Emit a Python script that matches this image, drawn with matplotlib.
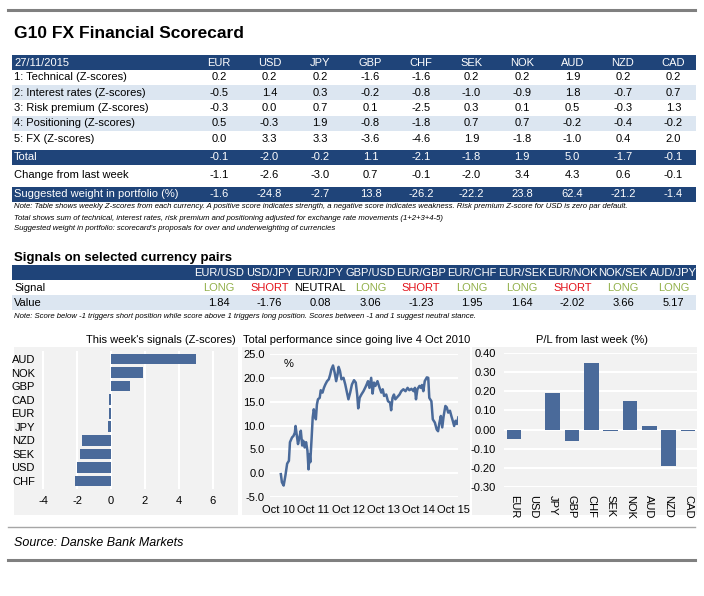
import matplotlib
matplotlib.use("Agg")
import matplotlib.pyplot as plt
from matplotlib import font_manager
from matplotlib.patches import Rectangle
from matplotlib.lines import Line2D

# narrow font if we have it, otherwise Liberation Sans
names = {f.name for f in font_manager.fontManager.ttflist}
FONT = "Liberation Sans Narrow" if "Liberation Sans Narrow" in names else "Liberation Sans"
plt.rcParams["font.family"] = [FONT, "DejaVu Sans"]
plt.rcParams["axes.unicode_minus"] = False

W, H = 704, 596
NAVY = "#1F4479"
BAND = "#DCE6F1"
BAR = "#4A6A9A"
PANEL = "#F2F2F2"
FS = 8

# scorecard data
currencies = ["EUR", "USD", "JPY", "GBP", "CHF", "SEK", "NOK", "AUD", "NZD", "CAD"]
row_labels = ["1: Technical (Z-scores)", "2: Interest rates (Z-scores)",
              "3: Risk premium (Z-scores)", "4: Positioning (Z-scores)", "5: FX (Z-scores)"]
technical = [0.2, 0.2, 0.2, -1.6, -1.6, 0.2, 0.2, 1.9, 0.2, 0.2]
interest = [-0.5, 1.4, 0.3, -0.2, -0.8, -1.0, -0.9, 1.8, -0.7, 0.7]
risk = [-0.3, 0.0, 0.7, 0.1, -2.5, 0.3, 0.1, 0.5, -0.3, 1.3]
positioning = [0.5, -0.3, 1.9, -0.8, -1.8, 0.7, 0.7, -0.2, -0.4, -0.2]
fx_scores = [0.0, 3.3, 3.3, -3.6, -4.6, 1.9, -1.8, -1.0, 0.4, 2.0]
total = [-0.1, -2.0, -0.2, 1.1, -2.1, -1.8, 1.9, 5.0, -1.7, -0.1]
change = [-1.1, -2.6, -3.0, 0.7, -0.1, -2.0, 3.4, 4.3, 0.6, -0.1]
weight = [-1.6, -24.8, -2.7, 13.8, -26.2, -22.2, 23.8, 62.4, -21.2, -1.4]

# currency pair signals
pairs = ["EUR/USD", "USD/JPY", "EUR/JPY", "GBP/USD", "EUR/GBP",
         "EUR/CHF", "EUR/SEK", "EUR/NOK", "NOK/SEK", "AUD/JPY"]
signals = ["LONG", "SHORT", "NEUTRAL", "LONG", "SHORT", "LONG", "LONG", "SHORT", "LONG", "LONG"]
pair_values = [1.84, -1.76, 0.08, 3.06, -1.23, 1.95, 1.64, -2.02, 3.66, 5.17]

# bar chart order (top to bottom)
signal_order = ["AUD", "NOK", "GBP", "CAD", "EUR", "JPY", "NZD", "SEK", "USD", "CHF"]

# total performance (decimal year, %)
perf_dates = [2010.83, 2010.86, 2010.91, 2010.96, 2011.01, 2011.06, 2011.09, 2011.15, 2011.19, 2011.23,
              2011.25, 2011.28, 2011.32, 2011.36, 2011.40, 2011.44, 2011.47, 2011.51, 2011.55, 2011.59,
              2011.62, 2011.65, 2011.67, 2011.71, 2011.74, 2011.77, 2011.80, 2011.83, 2011.86, 2011.89,
              2011.94, 2011.97, 2012.02, 2012.06, 2012.10, 2012.15, 2012.20, 2012.24, 2012.27, 2012.32,
              2012.37, 2012.41, 2012.45, 2012.48, 2012.52, 2012.56, 2012.62, 2012.67, 2012.71, 2012.76,
              2012.81, 2012.86, 2012.92, 2012.97, 2013.01, 2013.04, 2013.08, 2013.13, 2013.19, 2013.25,
              2013.28, 2013.32, 2013.36, 2013.41, 2013.45, 2013.49, 2013.53, 2013.59, 2013.65, 2013.70,
              2013.74, 2013.78, 2013.84, 2013.89, 2013.95, 2013.98, 2014.02, 2014.06, 2014.10, 2014.16,
              2014.22, 2014.27, 2014.33, 2014.39, 2014.45, 2014.50, 2014.56, 2014.62, 2014.66, 2014.69,
              2014.73, 2014.79, 2014.83, 2014.86, 2014.90, 2014.94, 2015.00, 2015.04, 2015.07, 2015.13,
              2015.17, 2015.23, 2015.28, 2015.32, 2015.36, 2015.40, 2015.44, 2015.48, 2015.53, 2015.57,
              2015.61, 2015.66, 2015.70, 2015.74, 2015.78, 2015.82, 2015.86, 2015.90]
perf_values = [-0.2, -1.9, -2.6, -0.5, 2.0, 2.6, 6.5, 7.5, 7.8, 8.5,
               9.9, 8.2, 6.1, 7.5, 8.9, 5.8, 6.8, 5.4, 6.5, 4.7,
               0.8, 4.0, 2.3, 7.5, 11.7, 13.4, 12.4, 11.3, 14.4, 15.5,
               15.8, 17.4, 16.9, 17.9, 18.6, 19.3, 19.7, 20.7, 21.7, 22.6,
               21.0, 19.3, 20.7, 22.3, 21.4, 19.7, 20.0, 18.6, 17.2, 15.5,
               16.9, 18.6, 19.5, 19.0, 16.5, 13.6, 15.8, 16.5, 17.2, 18.1,
               18.6, 19.3, 17.9, 20.0, 16.7, 19.0, 18.3, 19.3, 17.9, 16.9,
               17.6, 16.2, 16.5, 15.1, 14.8, 13.2, 15.8, 16.5, 15.5, 16.0,
               16.5, 17.2, 17.6, 17.2, 17.9, 17.4, 17.7, 17.2, 17.9, 15.5,
               17.6, 18.3, 17.9, 18.5, 17.2, 19.3, 20.1, 20.0, 15.8, 15.1,
               11.3, 10.6, 9.2, 8.8, 10.6, 12.0, 9.6, 12.0, 14.1, 13.8,
               12.7, 13.1, 12.0, 11.0, 9.9, 11.0, 10.3, 11.7]
perf_ticks = [2010.75, 2011.75, 2012.75, 2013.75, 2014.75, 2015.75]
perf_ticklabels = ["Oct 10", "Oct 11", "Oct 12", "Oct 13", "Oct 14", "Oct 15"]

# P/L from last week (%)
pl_week = [-0.05, 0.0, 0.19, -0.06, 0.35, -0.01, 0.15, 0.02, -0.19, -0.01]

fig = plt.figure(figsize=(W / 100, H / 100), dpi=100)


def text(x, y, s, **kw):
    kw.setdefault("va", "center")
    kw.setdefault("fontsize", FS)
    fig.text(x / W, 1 - y / H, s, **kw)


def rect(x0, y0, x1, y1, color):
    fig.patches.append(Rectangle((x0 / W, 1 - y1 / H), (x1 - x0) / W, (y1 - y0) / H,
                                 transform=fig.transFigure, facecolor=color,
                                 edgecolor="none", zorder=-1))


def hline(x0, x1, y, lw, color):
    fig.lines.append(Line2D([x0 / W, x1 / W], [1 - y / H, 1 - y / H],
                            transform=fig.transFigure, color=color, linewidth=lw))


def axes_at(x0, y0, x1, y1):
    ax = fig.add_axes([x0 / W, 1 - y1 / H, (x1 - x0) / W, (y1 - y0) / H])
    ax.set_facecolor("none")
    for s in ax.spines.values():
        s.set_visible(False)
    ax.tick_params(length=0, labelsize=FS)
    return ax


# frame lines
hline(8, 695, 9.7, 2.2, "#808080")
hline(8, 695, 527, 1.0, "#A6A6A6")
hline(8, 695, 560, 2.2, "#808080")

text(14, 33, "G10 FX Financial Scorecard", fontsize=12.5, fontweight="bold")

# scorecard table
col_x = [219 + 50.5 * i for i in range(len(currencies))]
L, R = 12, 696

rect(L, 55, R, 70, NAVY)
text(14, 62.5, "27/11/2015", color="white")
for x, c in zip(col_x, currencies):
    text(x, 62.5, c, color="white", ha="center")

rows = [technical, interest, risk, positioning, fx_scores]
row_y = [77.5, 92.5, 108, 123.5, 138.5]
for i, (lab, vals, y) in enumerate(zip(row_labels, rows, row_y)):
    if i % 2 == 1:
        rect(L, y - 7.5, R, y + 7.5, BAND)
    text(14, y, lab)
    for x, v in zip(col_x, vals):
        text(x, y, f"{v:.1f}", ha="center")

rect(L, 150, R, 165, NAVY)
text(14, 157.5, "Total", color="white")
for x, v in zip(col_x, total):
    text(x, 157.5, f"{v:.1f}", ha="center", color="white")

text(14, 175, "Change from last week")
for x, v in zip(col_x, change):
    text(x, 175, f"{v:.1f}", ha="center")

rect(L, 187, R, 202, NAVY)
text(14, 194.5, "Suggested weight in portfolio (%)", color="white")
for x, v in zip(col_x, weight):
    text(x, 194.5, f"{v:.1f}", ha="center", color="white")

notes = ["Note: Table shows weekly Z-scores from each currency. A positive score indicates strength, a negative score indicates weakness. Risk premium Z-score for USD is zero par default.",
         "Total shows sum of technical, interest rates, risk premium and positioning adjusted for exchange rate movements (1+2+3+4-5)",
         "Suggested weight in portfolio: scorecard's proposals for over and underweighting of currencies"]
for y, s in zip([207, 218, 229], notes):
    text(14, y, s, fontsize=5.6, style="italic")

# signals table
text(14, 258, "Signals on selected currency pairs", fontsize=9.5, fontweight="bold")
rect(L, 265, R, 280, NAVY)
for x, p in zip(col_x, pairs):
    text(x, 272.5, p, color="white", ha="center")
sig_colors = {"LONG": "#92B04A", "SHORT": "#E3141C", "NEUTRAL": "black"}
text(14, 288, "Signal")
for x, s in zip(col_x, signals):
    text(x, 288, s, ha="center", color=sig_colors[s])
rect(L, 295, R, 310, BAND)
text(14, 302.5, "Value")
for x, v in zip(col_x, pair_values):
    text(x, 302.5, f"{v:.2f}", ha="center")
text(14, 316, "Note: Score below -1 triggers short position while score above 1 triggers long position. Scores between -1 and 1 suggest neutral stance.",
     fontsize=5.6, style="italic")

# chart panels
rect(14, 347, 238, 515, PANEL)
rect(242, 347, 470, 515, PANEL)
rect(472, 347, 697, 515, PANEL)

# this week's signals
ax1 = axes_at(39.8, 351, 236.4, 489)
tot = dict(zip(currencies, total))
ypos = list(range(len(signal_order)))[::-1]
ax1.barh(ypos, [tot[c] for c in signal_order], height=0.78, color=BAR, zorder=2)
ax1.set_yticks(ypos)
ax1.set_yticklabels(signal_order)
ax1.set_xlim(-4.2, 7.4)
ax1.set_ylim(-0.6, 9.6)
ax1.set_xticks([-4, -2, 0, 2, 4, 6])
ax1.grid(axis="x", color="white", linewidth=1.5, zorder=0)
ax1.set_axisbelow(True)
ax1.tick_params(axis="x", pad=5)
text(236, 340, "This week's signals (Z-scores)", ha="right")

# total performance
ax2 = axes_at(270, 354, 458, 497)
ax2.plot(perf_dates, perf_values, color=BAR, linewidth=1.8, zorder=2)
ax2.set_xlim(2010.52, 2015.89)
ax2.set_ylim(-5, 25)
ax2.set_yticks([-5, 0, 5, 10, 15, 20, 25])
ax2.set_yticklabels([f"{v:.1f}" for v in [-5, 0, 5, 10, 15, 20, 25]])
ax2.set_xticks(perf_ticks)
ax2.set_xticklabels(perf_ticklabels)
ax2.grid(axis="y", color="white", linewidth=1.5, zorder=0)
ax2.set_axisbelow(True)
ax2.tick_params(axis="x", pad=6)
ax2.tick_params(axis="y", pad=4)
ax2.text(0.07, 0.93, "%", transform=ax2.transAxes, fontsize=FS, va="center")
text(357, 340, "Total performance since going live 4 Oct 2010", ha="center")

# P/L from last week
ax3 = axes_at(504.3, 353, 697.6, 487)
ax3.bar(range(len(currencies)), pl_week, width=0.75, color=BAR, zorder=2)
ax3.set_xlim(-0.5, 9.5)
ax3.set_ylim(-0.3, 0.4)
ax3.set_yticks([-0.3, -0.2, -0.1, 0.0, 0.1, 0.2, 0.3, 0.4])
ax3.set_yticklabels([f"{v:.2f}" for v in [-0.3, -0.2, -0.1, 0.0, 0.1, 0.2, 0.3, 0.4]])
ax3.set_xticks(range(len(currencies)))
ax3.set_xticklabels(currencies, rotation=-90)
ax3.grid(axis="y", color="white", linewidth=1.5, zorder=0)
ax3.set_axisbelow(True)
ax3.tick_params(axis="x", pad=6)
ax3.tick_params(axis="y", pad=6)
text(592, 340, "P/L from last week (%)", ha="center")

text(14, 543, "Source: Danske Bank Markets", fontsize=9, style="italic")

fig.savefig("out.png", dpi=100)
